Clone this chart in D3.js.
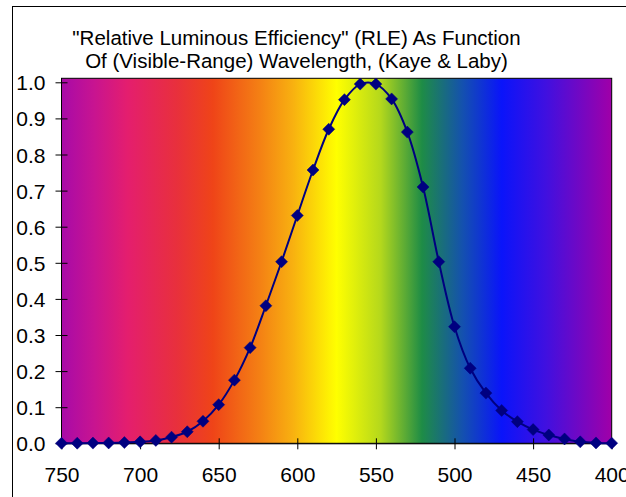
<!DOCTYPE html>
<html>
<head>
<meta charset="utf-8">
<script src="https://cdn.jsdelivr.net/npm/d3@7"></script>
<style>
  html, body { margin: 0; padding: 0; background: #fff; }
  svg { display: block; font-family: "Liberation Sans", Arial, sans-serif; }
</style>
</head>
<body>
<svg id="chart" width="626" height="497"></svg>
<script>
// ---- data ----
const wavelengths = [750, 740, 730, 720, 710, 700, 690, 680, 670, 660, 650, 640, 630, 620, 610, 600,
                     590, 580, 570, 560, 550, 540, 530, 520, 510, 500, 490, 480, 470, 460, 450, 440,
                     430, 420, 410, 400];
const rle = [0.0001, 0.0003, 0.0005, 0.001, 0.002, 0.004, 0.008, 0.017, 0.032, 0.061, 0.107, 0.175,
             0.265, 0.381, 0.503, 0.631, 0.757, 0.870, 0.952, 0.995, 0.995, 0.954, 0.862, 0.710,
             0.503, 0.323, 0.208, 0.139, 0.091, 0.060, 0.038, 0.023, 0.012, 0.004, 0.001, 0.0004];
const xTicks = [750, 700, 650, 600, 550, 500, 450, 400];
const yTicks = [0, 0.1, 0.2, 0.3, 0.4, 0.5, 0.6, 0.7, 0.8, 0.9, 1.0];
const titleLines = ['"Relative Luminous Efficiency" (RLE) As Function',
                    'Of (Visible-Range) Wavelength, (Kaye & Laby)'];
// background spectrum gradient stops (offset fraction, colour)
const spectrumStops = [
  [0.00, "#a80aa8"], [0.06, "#c81490"], [0.12, "#e41e6e"], [0.21, "#e8303c"],
  [0.275, "#ef4418"], [0.36, "#f48014"], [0.42, "#f8b010"], [0.50, "#ffff00"],
  [0.58, "#b4d81c"], [0.655, "#1e8c46"], [0.73, "#1450b0"], [0.80, "#0a14fa"],
  [0.88, "#4010e0"], [1.00, "#a000a8"]
];

// ---- layout ----
const plot = { left: 61.5, right: 611.7, top: 78.3, bottom: 443.3 };
const svg = d3.select("#chart");

const x = d3.scaleLinear().domain([750, 400]).range([plot.left, plot.right]);
const y = d3.scaleLinear().domain([0, 1]).range([plot.bottom, 82.3]);

// outer chart border
svg.append("rect")
  .attr("x", 12.5).attr("y", 6.5)
  .attr("width", 700).attr("height", 600)
  .attr("fill", "#fff").attr("stroke", "#000").attr("stroke-width", 1);

// gradient
const defs = svg.append("defs");
const grad = defs.append("linearGradient").attr("id", "spectrum")
  .attr("x1", "0%").attr("x2", "100%").attr("y1", "0%").attr("y2", "0%");
spectrumStops.forEach(([o, c]) => grad.append("stop").attr("offset", o).attr("stop-color", c));

svg.append("rect")
  .attr("x", plot.left).attr("y", plot.top)
  .attr("width", plot.right - plot.left).attr("height", plot.bottom - plot.top)
  .attr("fill", "url(#spectrum)").attr("stroke", "#000").attr("stroke-width", 1);

// title
const title = svg.append("text")
  .attr("text-anchor", "middle")
  .attr("font-size", 20.5).attr("fill", "#000");
titleLines.forEach((t, i) => {
  title.append("tspan").attr("x", 296.5).attr("y", 45 + i * 23.3).text(t);
});

// y axis
const yAxis = d3.axisLeft(y).tickValues(yTicks).tickFormat(d3.format(".1f"))
  .tickSizeInner(6).tickSizeOuter(0).tickPadding(10);
const gy = svg.append("g").attr("transform", `translate(${plot.left},0)`).call(yAxis);
gy.select(".domain").remove();
gy.selectAll(".tick line").attr("x1", -6).attr("x2", 6).attr("stroke", "#000");
gy.selectAll(".tick text").attr("font-size", 21).attr("font-family", "Liberation Sans, Arial, sans-serif")
  .attr("x", -16).attr("fill", "#000").attr("dy", "0.36em");

// x axis
const xAxis = d3.axisBottom(x).tickValues(xTicks).tickFormat(d3.format("d"))
  .tickSizeInner(6).tickSizeOuter(0);
const gx = svg.append("g").attr("transform", `translate(0,${plot.bottom})`).call(xAxis);
gx.select(".domain").attr("stroke", "#000");
gx.selectAll(".tick line").attr("y1", -5).attr("y2", 6).attr("stroke", "#000");
gx.selectAll(".tick text").attr("font-size", 21).attr("font-family", "Liberation Sans, Arial, sans-serif")
  .attr("y", 38.5).attr("dy", 0).attr("fill", "#000");

// line
const data = wavelengths.map((w, i) => ({ w, v: rle[i] }));
const line = d3.line().x(d => x(d.w)).y(d => y(d.v)).curve(d3.curveCatmullRom.alpha(0.5));
svg.append("path").datum(data)
  .attr("d", line).attr("fill", "none").attr("stroke", "#000080").attr("stroke-width", 2);

// markers
svg.append("g").selectAll("path").data(data).join("path")
  .attr("transform", d => `translate(${x(d.w)},${y(d.v)})`)
  .attr("d", "M0,-6L6,0L0,6L-6,0Z")
  .attr("fill", "#000080").attr("stroke", "#000080").attr("stroke-width", 0.5);
</script>
</body>
</html>
